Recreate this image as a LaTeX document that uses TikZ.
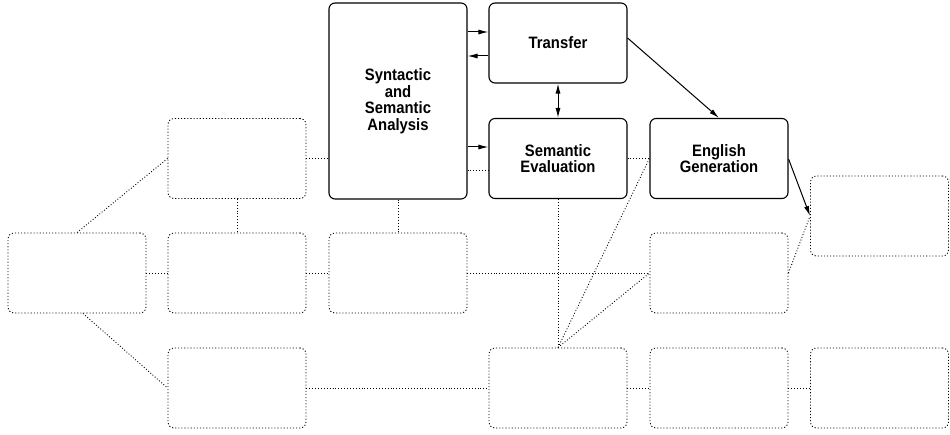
\documentclass[tikz,border=0pt]{standalone}
\usepackage{fontspec}
\setmainfont{Liberation Sans}[FakeStretch=0.9]
\usetikzlibrary{arrows.meta}
\begin{document}
\begin{tikzpicture}[x=1pt,y=-1pt,
  box/.style={draw, rounded corners=6pt, minimum width=138pt, minimum height=80pt,
    inner sep=0pt, line width=1.1pt, align=center,
    font=\bfseries\fontsize{16.5}{16.5}\selectfont},
  ghost/.style={box, dotted, line width=0.9pt},
  link/.style={line width=1pt, -{Latex[length=10pt,width=5pt]}},
  both/.style={line width=1pt, {Latex[length=10pt,width=5pt]}-{Latex[length=10pt,width=5pt]}},
  tie/.style={dotted, line width=0.9pt}]
\useasboundingbox (0,0) rectangle (950,435);

% solid modules
\node[box, minimum height=196pt] (syn) at (398,101) {Syntactic\\and\\Semantic\\Analysis};
\node[box] (tr) at (558,43) {Transfer};
\node[box] (se) at (558,158.5) {Semantic\\Evaluation};
\node[box] (eg) at (719,158.5) {English\\Generation};

% empty dotted modules
\node[ghost] (b2) at (237,158.5) {};
\node[ghost] (c1) at (77,273) {};
\node[ghost] (c2) at (237,273) {};
\node[ghost] (c3) at (398,273) {};
\node[ghost] (c5) at (719,273) {};
\node[ghost] (r6) at (879.5,216) {};
\node[ghost] (d2) at (237,388) {};
\node[ghost] (d4) at (558,388) {};
\node[ghost] (d5) at (719,388) {};
\node[ghost] (d6) at (879.5,388) {};

% data flow
\draw[link] (syn.east |- 0,32) -- (tr.west |- 0,32);
\draw[link] (tr.west |- 0,56) -- (syn.east |- 0,56);
\draw[link] (syn.east |- 0,147) -- (se.west |- 0,147);
\draw[both] (tr.south) -- (se.north);
\draw[link] (tr.east |- 0,38) -- (eg.north);
\draw[link] (eg.east |- 0,159) -- (r6.west);

% dotted ties
\draw[tie] (syn.east |- 0,170) -- (se.west |- 0,170);
\draw[tie] (b2.east) -- (syn.west |- b2.east);
\draw[tie] (b2.south) -- (c2.north);
\draw[tie] (b2.west) -- (c1.north);
\draw[tie] (c1.east) -- (c2.west);
\draw[tie] (c2.east) -- (c3.west);
\draw[tie] (syn.south) -- (c3.north);
\draw[tie] (c3.east) -- (c5.west);
\draw[tie] (se.south) -- (d4.north);
\draw[tie] (se.east) -- (eg.west);
\draw[tie] (d4.north) -- (eg.west);
\draw[tie] (d4.north) -- (c5.west);
\draw[tie] (c5.east) -- (r6.west);
\draw[tie] ([xshift=6pt]c1.south) -- (d2.west);
\draw[tie] (d2.east) -- (d4.west);
\draw[tie] (d4.east) -- (d5.west);
\draw[tie] (d5.east) -- (d6.west);
\end{tikzpicture}
\end{document}
